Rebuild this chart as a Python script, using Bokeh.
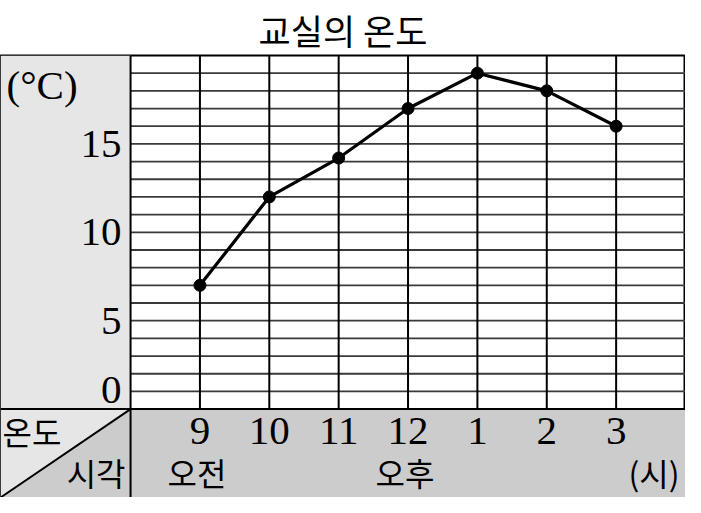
from bokeh.plotting import figure
from bokeh.models import Range1d
from bokeh.core.properties import value
from bokeh.embed import file_html
from bokeh.resources import INLINE

# ---- data ----
title_text = "교실의 온도"
hours = [9, 10, 11, 12, 13, 14, 15]
hour_labels = ["9", "10", "11", "12", "1", "2", "3"]
temps = [7, 12, 14.2, 17, 19, 18, 16]
y_ticks = [5, 10, 15]
y_tick_labels = ["5", "10", "15"]
y_zero = [0]
y_zero_label = ["0"]
y_unit = ["(°C)"]
corner_top = ["온도"]
corner_bottom = ["시각"]
periods = ["오전", "오후"]
period_at = [9, 12]
x_unit = ["(시)"]

# ---- layout (data units) ----
X0, X1 = 8, 16          # grid span (hours)
Y0, Y1 = 0, 20          # temperature span
LEFT = 6.125            # left header column edge
BOTTOM = -5             # bottom header band edge
ROW1 = -1.25
ROW2 = -3.55

LIGHT = "#e6e6e6"
DARK = "#cccccc"
SERIF = value("Liberation Serif")
KR = value("Noto Sans CJK KR")

p = figure(width=685, height=497, x_range=Range1d(LEFT, X1), y_range=Range1d(BOTTOM, Y1),
           x_axis_type=None, y_axis_type=None, toolbar_location=None,
           output_backend="svg", min_border_left=0, min_border_right=0,
           min_border_bottom=0, min_border_top=54)
p.title.text = title_text
p.title.align = "center"
p.title.text_font = "Noto Sans CJK KR"
p.title.text_font_size = "35px"
p.title.text_font_style = "normal"
p.title.text_color = "black"
p.title.standoff = 2
p.title.offset = 0
p.outline_line_color = "black"
p.outline_line_width = 2
p.background_fill_color = "white"
p.border_fill_color = "white"

# header backgrounds
p.quad(left=[LEFT], right=[X0], bottom=[Y0], top=[Y1], fill_color=LIGHT, line_color=None)
p.quad(left=[X0], right=[X1], bottom=[BOTTOM], top=[Y0], fill_color=DARK, line_color=None)
p.patch([LEFT, X0, LEFT], [Y0, Y0, BOTTOM], fill_color=LIGHT, line_color=None)
p.patch([X0, X0, LEFT], [Y0, BOTTOM, BOTTOM], fill_color=DARK, line_color=None)

# grid lines
hy = list(range(Y0 + 1, Y1))
p.segment(x0=[X0] * len(hy), y0=hy, x1=[X1] * len(hy), y1=hy, line_color="#3a3a3a", line_width=1.8)
p.segment(x0=hours, y0=[Y0] * len(hours), x1=hours, y1=[Y1] * len(hours), line_color="black", line_width=2)

# table borders
p.segment(x0=[X0, LEFT, LEFT], y0=[BOTTOM, Y0, BOTTOM], x1=[X0, X1, X0], y1=[Y1, Y0, Y0],
          line_color="black", line_width=2)

# data line
p.line(hours, temps, line_color="black", line_width=3.2)
p.scatter(hours, temps, size=12, fill_color="black", line_color="black")

# y labels
p.text(x=[X0] * len(y_ticks), y=y_ticks, text=y_tick_labels, x_offset=-9,
       text_align="right", text_baseline="middle", text_font=SERIF, text_font_size="41px", text_color="black")
p.text(x=[X0], y=y_zero, text=y_zero_label, x_offset=-9, y_offset=-19,
       text_align="right", text_baseline="middle", text_font=SERIF, text_font_size="41px", text_color="black")
p.text(x=[LEFT], y=[18.35], text=y_unit, x_offset=6,
       text_align="left", text_baseline="middle", text_font=SERIF, text_font_size="41px", text_color="black")

# x labels
p.text(x=hours, y=[ROW1] * len(hours), text=hour_labels, text_align="center", text_baseline="middle",
       text_font=SERIF, text_font_size="41px", text_color="black")
p.text(x=period_at, y=[ROW2] * len(periods), text=periods, x_offset=-3, text_align="center", text_baseline="middle",
       text_font=KR, text_font_size="32px", text_color="black")
p.text(x=[X1], y=[ROW2], text=x_unit, x_offset=-6, text_align="right", text_baseline="middle",
       text_font=KR, text_font_size="32px", text_color="black")

# corner cell
p.text(x=[LEFT], y=[ROW1], text=corner_top, x_offset=2, text_align="left", text_baseline="middle",
       text_font=KR, text_font_size="32px", text_color="black")
p.text(x=[X0], y=[ROW2], text=corner_bottom, x_offset=-5, text_align="right", text_baseline="middle",
       text_font=KR, text_font_size="32px", text_color="black")

open("out.html", "w").write(file_html(p, INLINE))
